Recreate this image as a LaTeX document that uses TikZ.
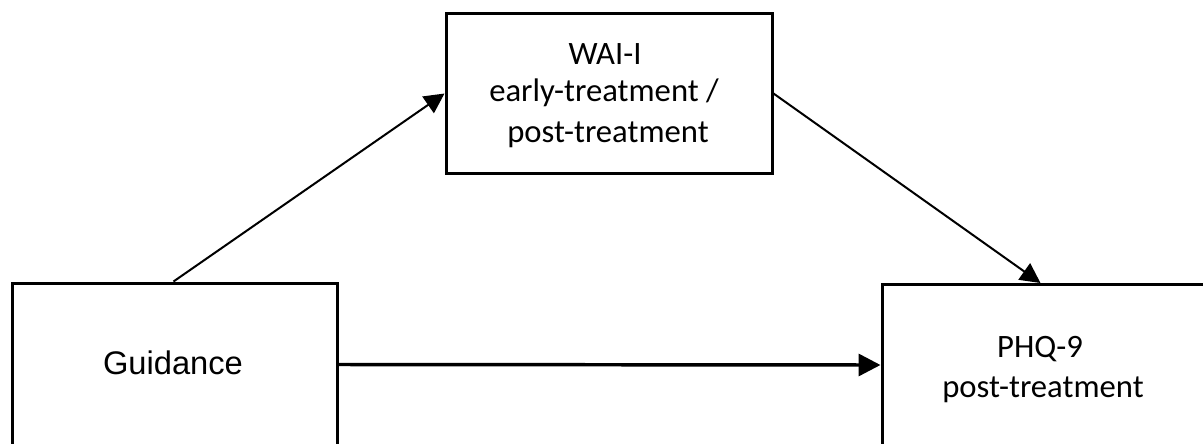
\documentclass[tikz,border=0pt]{standalone}
\usepackage{fontspec}
\setmainfont{Carlito}
\newfontfamily\arialfont{Liberation Sans}
\usetikzlibrary{arrows.meta}
\begin{document}
\begin{tikzpicture}[x=0.75pt,y=-0.75pt,
  box/.style={draw=black,line width=2.25pt,rectangle,inner sep=0pt,fill=white},
  lbl/.style={anchor=base,inner sep=0pt,font=\fontsize{24.5pt}{29pt}\selectfont},
  diag/.style={line width=1.5pt,-{Triangle[length=15pt,width=15pt]}},
  horiz/.style={line width=2.6pt,-{Triangle[length=16.5pt,width=16.5pt]}}]
\useasboundingbox (0,0) rectangle (1203,443);
\begin{scope}
\clip (0,0) rectangle (1203,443);
\node[box,minimum width=243.75pt,minimum height=180pt] (L) at (174.5,403) {};
\node[box,minimum width=244.5pt,minimum height=120pt] (T) at (609,93) {};
\node[box,minimum width=282pt,minimum height=177pt] (R) at (1070,402.5) {};
\node[lbl,font=\arialfont\fontsize{24.5pt}{29pt}\selectfont] (tg) at (173,374) {Guidance};
\node[lbl] (tw1) at (605,64) {WAI-I};
\node[lbl] (tw2) at (604,101) {early-treatment /};
\node[lbl] (tw3) at (608,142) {post-treatment};
\node[lbl] (tp1) at (1040,357) {PHQ-9};
\node[lbl] (tp2) at (1043,397) {post-treatment};
\draw[diag] ([xshift=122.25pt]L.north west) -- ([yshift=-61.5pt]T.north west);
\draw[diag] ([yshift=-61.5pt]T.north east) -- ([xshift=120pt]R.north west);
\draw[horiz] ([yshift=-62.25pt]L.north east) -- ([yshift=-61.5pt]R.north west);
\end{scope}
\end{tikzpicture}
\end{document}
